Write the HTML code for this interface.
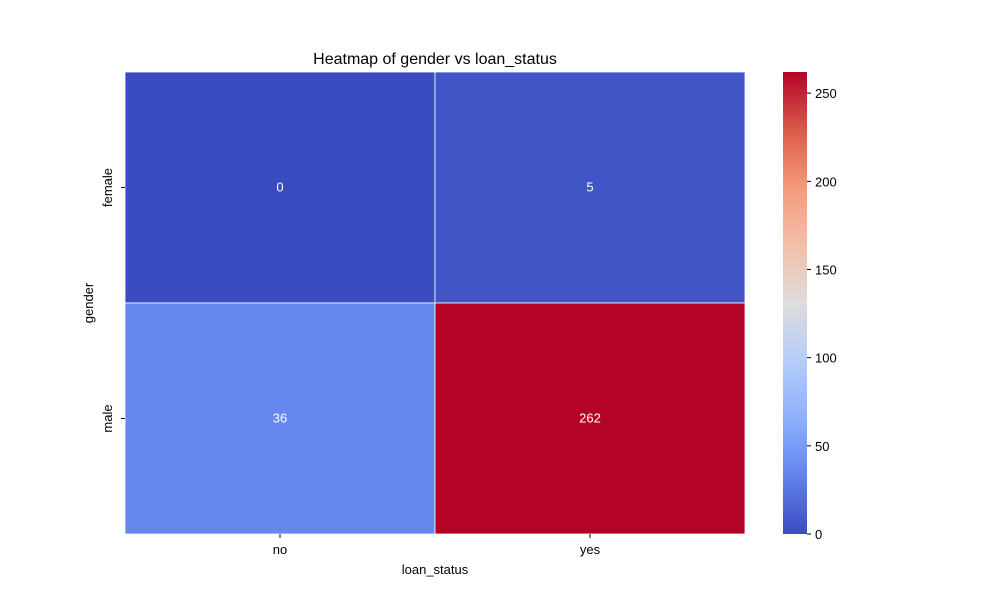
<!DOCTYPE html>
<html><head><meta charset="utf-8"><style>
body{margin:0;background:#fff;font-family:"Liberation Sans",sans-serif;}
svg text{font-family:"Liberation Sans",sans-serif;}
</style></head><body>
<svg id="c" width="1000" height="600" xmlns="http://www.w3.org/2000/svg">
<text x="435" y="64" font-size="16" text-anchor="middle">Heatmap of gender vs loan_status</text>
<g id="cells"></g>
<g id="axes"></g>
<defs><linearGradient id="cbg" x1="0" y1="1" x2="0" y2="0"></linearGradient></defs>
<rect x="783" y="72" width="24" height="462" fill="url(#cbg)"/>
<g id="cbticks"></g>
<text x="435" y="574" font-size="13" text-anchor="middle">loan_status</text>
<text transform="translate(93,303) rotate(-90)" font-size="13" text-anchor="middle">gender</text>
</svg>
<script>
const xCats=["no","yes"];
const yCats=["female","male"];
const values=[[0,5],[36,262]];
const cbTicks=[0,50,100,150,200,250];
const vmin=0, vmax=262;
const stops=[[0,[59,76,192]],[0.0625,[78,104,216]],[0.125,[98,130,234]],[0.1875,[119,155,247]],[0.25,[141,176,254]],[0.375,[181,205,250]],[0.5,[221,220,220]],[0.625,[242,192,168]],[0.75,[244,154,123]],[0.875,[218,91,73]],[1,[180,4,38]]];
function cmap(t){t=Math.max(0,Math.min(1,t));for(let i=1;i<stops.length;i++){if(t<=stops[i][0]){const a=stops[i-1],b=stops[i],f=(t-a[0])/(b[0]-a[0]);const c=a[1].map((v,k)=>Math.round(v+(b[1][k]-v)*f));return `rgb(${c})`;}}return 'rgb(180,4,38)';}
const NS="http://www.w3.org/2000/svg";
const L=125,R=745,T=72,B=534;
const cw=(R-L)/xCats.length, ch=(B-T)/yCats.length;
const xs=i=>L+i*cw, ys=j=>T+j*ch;
const cells=document.getElementById('cells'), axes=document.getElementById('axes');
function mk(tag,attrs,parent){const e=document.createElementNS(NS,tag);for(const k in attrs)e.setAttribute(k,attrs[k]);parent.appendChild(e);return e;}
yCats.forEach((yc,j)=>xCats.forEach((xc,i)=>{
 const v=values[j][i];
 const r=mk('rect',{x:xs(i),y:ys(j),width:cw,height:ch,fill:cmap((v-vmin)/(vmax-vmin)),stroke:'#fff','stroke-width':0.8},cells);
 
 
 const t=mk('text',{x:xs(i)+cw/2,y:ys(j)+ch/2+4,'font-size':13,'text-anchor':'middle',fill:'#fff'},cells);
 t.textContent=v;
 
 
}));
xCats.forEach((c,i)=>{
 const x=xs(i)+cw/2;
 mk('line',{x1:x,x2:x,y1:B,y2:B+4,stroke:'#000'},axes);
 const t=mk('text',{x:x,y:B+20,'font-size':13,'text-anchor':'middle'},axes);
 t.textContent=c;
 
 
});
yCats.forEach((c,j)=>{
 const y=ys(j)+ch/2;
 mk('line',{x1:L-4,x2:L,y1:y,y2:y,stroke:'#000'},axes);
 const t=mk('text',{transform:`translate(${L-13},${y}) rotate(-90)`,'font-size':13,'text-anchor':'middle'},axes);
 t.textContent=c;
 
 
});
const g=document.getElementById('cbg');
stops.forEach(s=>mk('stop',{offset:s[0],'stop-color':`rgb(${s[1]})`},g));
const cbt=document.getElementById('cbticks');
cbTicks.forEach(v=>{
 const y=B-(v-vmin)/(vmax-vmin)*(B-T);
 mk('line',{x1:807,x2:811,y1:y,y2:y,stroke:'#000'},cbt);
 const t=mk('text',{x:815,y:y+5,'font-size':13},cbt);
 t.textContent=v;
 
 
});
</script>
</body></html>
